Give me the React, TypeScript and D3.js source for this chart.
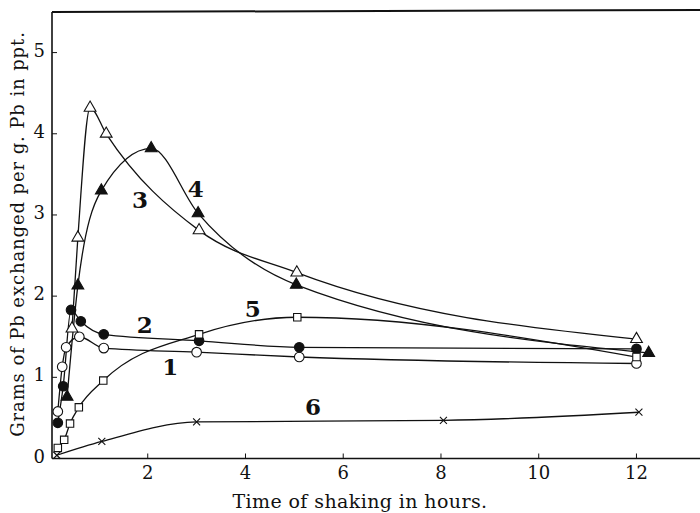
import React, { useRef, useEffect } from "react";
import * as d3 from "d3";

// hours, value pairs
const series1 = [[0.16, 0.58], [0.25, 1.13], [0.33, 1.37], [0.6, 1.5], [1.1, 1.36], [3.0, 1.31], [5.1, 1.25], [12.0, 1.17]];
const series2 = [[0.16, 0.44], [0.27, 0.89], [0.43, 1.83], [0.63, 1.69], [1.1, 1.53], [3.05, 1.45], [5.1, 1.37], [12.0, 1.35]];
const series3 = [[0.45, 1.6], [0.57, 2.72], [0.82, 4.32], [1.15, 4.0], [3.05, 2.81], [5.05, 2.29], [12.0, 1.47]];
const series4 = [[0.35, 0.76], [0.57, 2.13], [1.05, 3.3], [2.07, 3.82], [3.03, 3.02], [5.04, 2.14], [12.25, 1.3]];
const series5 = [[0.16, 0.13], [0.29, 0.23], [0.41, 0.43], [0.59, 0.63], [1.09, 0.96], [3.05, 1.53], [5.06, 1.74], [12.0, 1.25]];
const series6 = [[0.14, 0.04], [1.06, 0.21], [3.0, 0.45], [8.05, 0.47], [12.05, 0.57]];

const xTicks = [2, 4, 6, 8, 10, 12];
const yTicks = [0, 1, 2, 3, 4, 5];

// curve number labels: [hours, value, text]
const curveLabels = [[2.46, 1.03, "1"], [1.94, 1.54, "2"], [1.84, 3.08, "3"], [2.98, 3.22, "4"], [4.15, 1.74, "5"], [5.38, 0.53, "6"]];

const App = () => {
  const ref = useRef(null);

  useEffect(() => {
    const svg = d3.select(ref.current);
    svg.selectAll("*").remove();

    const width = 700;
    const height = 513;
    const font = "'DejaVu Serif', 'Liberation Serif', serif";

    const x = d3.scaleLinear().domain([0, 13.3]).range([50, 700]);
    const y = d3.scaleLinear().domain([0, 5.5]).range([458.5, 12]);

    svg.attr("width", width).attr("height", height);

    const frame = svg.append("g").attr("stroke", "#111").attr("fill", "none");
    frame.append("line").attr("x1", x(0) + 2).attr("x2", x(0) + 2).attr("y1", y(5.5)).attr("y2", y(0)).attr("stroke-width", 1.6);
    frame.append("line").attr("x1", x(0) + 2).attr("x2", width).attr("y1", y(0)).attr("y2", y(0)).attr("stroke-width", 1.6);
    frame.append("line").attr("x1", x(0) + 2).attr("x2", width).attr("y1", y(5.5)).attr("y2", y(5.5) - 2).attr("stroke-width", 2);

    // inward ticks
    frame.selectAll(".xt").data(xTicks).enter().append("line")
      .attr("x1", (d) => x(d)).attr("x2", (d) => x(d))
      .attr("y1", y(0)).attr("y2", y(0) - 5).attr("stroke-width", 1);
    frame.selectAll(".yt").data(yTicks.slice(1)).enter().append("line")
      .attr("x1", x(0) + 2).attr("x2", x(0) + 7)
      .attr("y1", (d) => y(d)).attr("y2", (d) => y(d)).attr("stroke-width", 1);

    svg.selectAll(".xl").data(xTicks).enter().append("text")
      .attr("x", (d) => x(d)).attr("y", y(0) + 20)
      .attr("text-anchor", "middle").attr("font-family", font).attr("font-size", 18).attr("fill", "#111")
      .text((d) => d);
    svg.selectAll(".yl").data(yTicks).enter().append("text")
      .attr("x", x(0) - 5).attr("y", (d) => y(d) + 4)
      .attr("text-anchor", "end").attr("font-family", font).attr("font-size", 18).attr("fill", "#111")
      .text((d) => d);

    svg.append("text")
      .attr("x", 360).attr("y", 508)
      .attr("text-anchor", "middle").attr("font-family", font).attr("font-size", 19).attr("letter-spacing", 0.4).attr("fill", "#111")
      .text("Time of shaking in hours.");
    svg.append("text")
      .attr("transform", `translate(24, 234) rotate(-90)`)
      .attr("text-anchor", "middle").attr("font-family", font).attr("font-size", 18).attr("letter-spacing", 0.9).attr("fill", "#111")
      .text("Grams of Pb exchanged per g. Pb in ppt.");

    const line = d3.line()
      .x((d) => x(d[0]))
      .y((d) => y(d[1]))
      .curve(d3.curveMonotoneX);

    const all = [series1, series2, series3, series4, series5, series6];
    svg.append("g").selectAll("path").data(all).enter().append("path")
      .attr("d", (d) => line(d))
      .attr("fill", "none").attr("stroke", "#111").attr("stroke-width", 1.3);

    const tri = d3.symbol().type(d3.symbolTriangle).size(60);
    const sq = d3.symbol().type(d3.symbolSquare).size(55);

    const m = svg.append("g").attr("stroke", "#111").attr("stroke-width", 1.1);
    m.selectAll(".s1").data(series1).enter().append("circle")
      .attr("cx", (d) => x(d[0])).attr("cy", (d) => y(d[1])).attr("r", 4.8).attr("fill", "#fff");
    m.selectAll(".s2").data(series2).enter().append("circle")
      .attr("cx", (d) => x(d[0])).attr("cy", (d) => y(d[1])).attr("r", 4.8).attr("fill", "#111");
    m.selectAll(".s3").data(series3).enter().append("path")
      .attr("d", tri).attr("transform", (d) => `translate(${x(d[0])},${y(d[1])})`).attr("fill", "#fff");
    m.selectAll(".s4").data(series4).enter().append("path")
      .attr("d", tri).attr("transform", (d) => `translate(${x(d[0])},${y(d[1])})`).attr("fill", "#111");
    m.selectAll(".s5").data(series5).enter().append("path")
      .attr("d", sq).attr("transform", (d) => `translate(${x(d[0])},${y(d[1])})`).attr("fill", "#fff");
    m.selectAll(".s6").data(series6).enter().append("path")
      .attr("d", "M-3.5,-3.5L3.5,3.5M-3.5,3.5L3.5,-3.5")
      .attr("transform", (d) => `translate(${x(d[0])},${y(d[1])})`).attr("fill", "none");

    svg.selectAll(".cl").data(curveLabels).enter().append("text")
      .attr("x", (d) => x(d[0])).attr("y", (d) => y(d[1]))
      .attr("text-anchor", "middle").attr("font-family", font).attr("font-size", 23).attr("font-weight", "bold").attr("fill", "#111")
      .text((d) => d[2]);
  }, []);

  return <svg ref={ref} style={{ display: "block", position: "absolute", left: 0, top: 0 }}></svg>;
};

export default App;
